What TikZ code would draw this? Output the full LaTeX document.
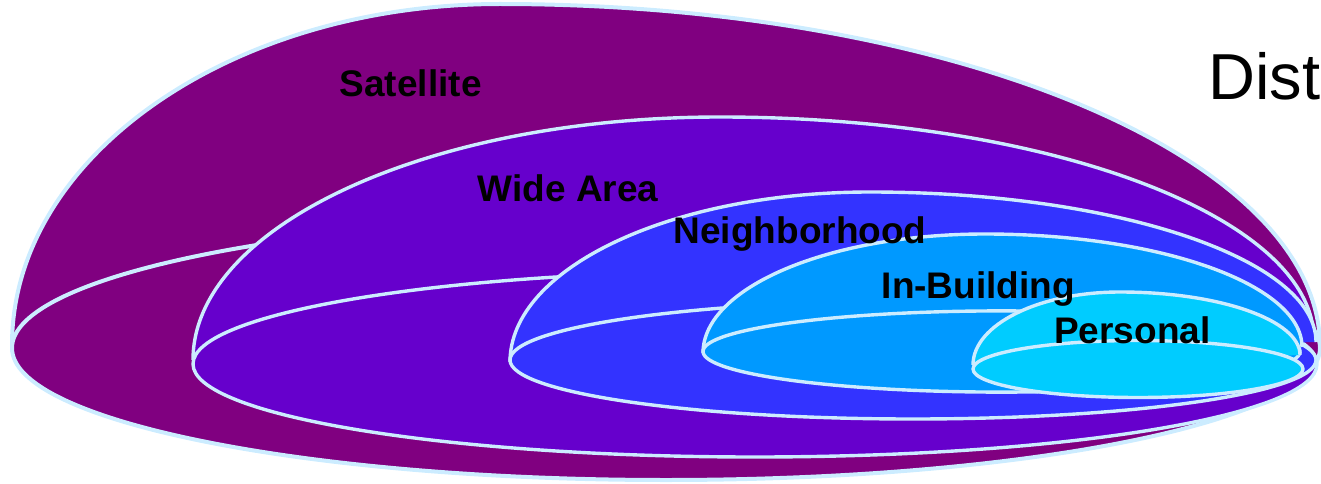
\documentclass[tikz,border=0pt]{standalone}
\usepackage{fontspec}
\setmainfont{Liberation Sans}
\definecolor{satc}{HTML}{800080}
\definecolor{widec}{HTML}{6600CC}
\definecolor{neighc}{HTML}{3333FF}
\definecolor{inbc}{HTML}{0099FF}
\definecolor{persc}{HTML}{00CCFF}
\definecolor{edgec}{HTML}{CCECFF}
\tikzset{
  layer/.style={draw=edgec, line width=3.4pt, line join=round},
  outer/.style={draw=edgec, line width=4pt, line join=round},
  lab/.style={inner sep=0pt, anchor=base west, font=\fontsize{37}{40}\selectfont\bfseries, text=black},
}
\begin{document}
\begin{tikzpicture}[x=1pt,y=-1pt]
\useasboundingbox (0,0) rectangle (1321,484);
% Satellite
\filldraw[outer, fill=satc] (12,345) .. controls (12,156.7) and (230.5,4) .. (500,4)
  .. controls (952.9,4) and (1320,157.6) .. (1320,347);
\filldraw[outer, fill=satc] (666,348) ellipse [x radius=654pt, y radius=132pt];
% Wide Area
\filldraw[layer, fill=widec] (193,360) .. controls (193,225.8) and (428.9,117) .. (720,117)
  .. controls (1048.1,117) and (1314,216.8) .. (1314,340);
\filldraw[layer, fill=widec] (755,364) ellipse [x radius=562pt, y radius=93pt];
% Neighborhood
\filldraw[layer, fill=neighc] (510,362) .. controls (510,268.1) and (671.2,192) .. (870,192)
  .. controls (1116.3,192) and (1316,259.2) .. (1316,342);
\filldraw[layer, fill=neighc] (913,360) ellipse [x radius=403pt, y radius=59pt];
% In-Building
\filldraw[layer, fill=inbc] (703,353) .. controls (703,287.3) and (829.3,234) .. (985,234)
  .. controls (1160.1,234) and (1302,284.6) .. (1302,347);
\filldraw[layer, fill=inbc] (1001.5,351.5) ellipse [x radius=298.5pt, y radius=40.6pt];
% Personal
\filldraw[layer, fill=persc] (973,365) .. controls (973,324.7) and (1038.8,292) .. (1120,292)
  .. controls (1219.4,292) and (1300,320.2) .. (1300,355);
\filldraw[layer, fill=persc] (1138,369) ellipse [x radius=165pt, y radius=28.5pt];
% Labels
\node[lab] (sat) at (339.5,96) {Satellite};
\node[lab] (wide) at (477.5,201.5) {Wide Area};
\node[lab] (neigh) at (673.5,243) {Neighborhood};
\node[lab] (inb) at (881.5,298) {In-Building};
\node[lab] (pers) at (1054,343) {Personal};
\node[inner sep=0pt, anchor=base west, font=\fontsize{65}{70}\selectfont] (dist) at (1208,100) {Dist};
\end{tikzpicture}
\end{document}
